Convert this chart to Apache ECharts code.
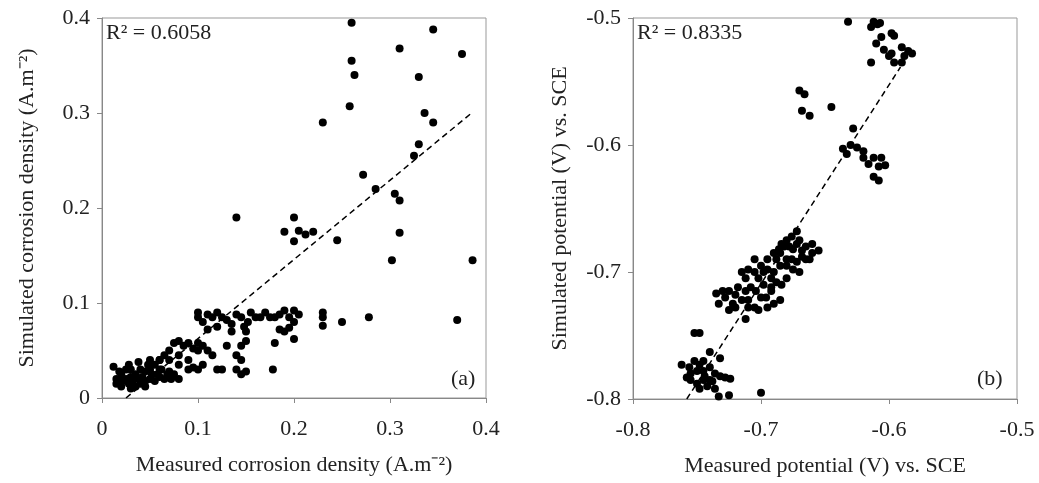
<!DOCTYPE html>
<html>
<head>
<meta charset="utf-8">
<script src="https://cdn.jsdelivr.net/npm/echarts@6/dist/echarts.min.js"></script>
<style>html,body{margin:0;background:#fff}#c{width:1039px;height:483px}</style>
</head>
<body>
<div id="c"></div>
<script>
// (a) 腐蚀电流密度
const corrPoints = [
  [0.26,0.395],[0.345,0.388],[0.26,0.355],[0.263,0.34],[0.31,0.368],[0.375,0.362],[0.258,0.307],
  [0.23,0.29],[0.33,0.338],[0.336,0.3],[0.345,0.29],[0.33,0.267],[0.325,0.255],[0.272,0.235],
  [0.285,0.22],[0.305,0.215],[0.31,0.208],[0.31,0.174],[0.302,0.145],[0.386,0.145],
  [0.14,0.19],[0.2,0.19],[0.19,0.175],[0.205,0.176],[0.212,0.172],[0.2,0.165],[0.22,0.175],[0.245,0.166],
  [0.37,0.082],[0.278,0.085],[0.25,0.08],[0.23,0.09],[0.23,0.085],[0.23,0.076],
  [0.1,0.09],[0.1,0.085],[0.105,0.08],[0.11,0.088],[0.115,0.085],[0.12,0.09],[0.125,0.085],[0.13,0.082],
  [0.135,0.078],[0.14,0.088],[0.145,0.085],[0.148,0.075],[0.15,0.07],[0.152,0.08],[0.155,0.09],
  [0.16,0.085],[0.165,0.085],[0.17,0.09],[0.175,0.085],[0.18,0.085],[0.185,0.088],[0.19,0.092],
  [0.195,0.085],[0.2,0.092],[0.2,0.08],[0.205,0.088],[0.19,0.07],[0.185,0.072],[0.195,0.074],
  [0.2,0.062],[0.18,0.058],[0.11,0.072],[0.12,0.075],[0.135,0.07],[0.15,0.06],[0.145,0.055],
  [0.08,0.06],[0.075,0.058],[0.085,0.055],[0.09,0.058],[0.095,0.052],[0.1,0.058],[0.1,0.05],
  [0.105,0.055],[0.11,0.05],[0.115,0.045],[0.13,0.055],[0.14,0.045],[0.145,0.04],[0.07,0.05],
  [0.065,0.045],[0.06,0.04],[0.055,0.035],[0.06,0.03],[0.07,0.028],[0.08,0.035],[0.09,0.03],
  [0.095,0.032],[0.1,0.03],[0.105,0.035],[0.12,0.03],[0.125,0.03],[0.14,0.03],[0.145,0.025],
  [0.15,0.028],[0.178,0.03],[0.08,0.02],[0.075,0.025],
  [0.012,0.033],[0.015,0.02],[0.015,0.015],[0.018,0.018],[0.02,0.025],[0.02,0.012],[0.022,0.018],
  [0.025,0.02],[0.025,0.03],[0.028,0.015],[0.03,0.022],[0.03,0.03],[0.032,0.018],[0.035,0.025],
  [0.035,0.012],[0.038,0.02],[0.04,0.03],[0.04,0.015],[0.042,0.022],[0.045,0.028],[0.045,0.018],
  [0.048,0.035],[0.05,0.02],[0.05,0.03],[0.052,0.025],[0.055,0.018],[0.058,0.025],[0.06,0.022],
  [0.062,0.03],[0.065,0.02],[0.068,0.025],[0.072,0.02],[0.045,0.012],[0.03,0.01],[0.018,0.028],
  [0.028,0.035],[0.038,0.038],[0.05,0.04],[0.06,0.04],[0.07,0.04],[0.08,0.045],[0.09,0.04]
];
const corrFit = [[0.025, 0], [0.385, 0.30]];

// (b) 电位
const potPoints = [
  [-0.632,-0.503],[-0.612,-0.503],[-0.609,-0.505],[-0.607,-0.504],[-0.614,-0.507],[-0.606,-0.515],
  [-0.598,-0.512],[-0.596,-0.514],[-0.61,-0.52],[-0.604,-0.525],[-0.598,-0.528],[-0.59,-0.523],
  [-0.585,-0.526],[-0.582,-0.528],[-0.588,-0.53],[-0.6,-0.53],[-0.614,-0.535],[-0.596,-0.535],[-0.59,-0.535],
  [-0.67,-0.557],[-0.666,-0.56],[-0.668,-0.573],[-0.662,-0.577],[-0.645,-0.57],[-0.628,-0.587],
  [-0.63,-0.6],[-0.636,-0.603],[-0.625,-0.602],[-0.62,-0.605],[-0.62,-0.61],[-0.612,-0.61],
  [-0.606,-0.61],[-0.616,-0.615],[-0.608,-0.617],[-0.603,-0.616],[-0.612,-0.625],[-0.608,-0.628],[-0.633,-0.607],
  [-0.67,-0.675],[-0.665,-0.68],[-0.66,-0.678],[-0.655,-0.683],[-0.66,-0.685],[-0.668,-0.688],
  [-0.672,-0.678],[-0.675,-0.682],[-0.678,-0.68],[-0.682,-0.68],[-0.685,-0.685],[-0.68,-0.69],
  [-0.676,-0.69],[-0.672,-0.692],[-0.665,-0.69],[-0.67,-0.7],[-0.675,-0.698],[-0.68,-0.695],
  [-0.685,-0.695],[-0.688,-0.69],[-0.69,-0.7],[-0.695,-0.698],[-0.692,-0.705],[-0.688,-0.708],
  [-0.684,-0.71],[-0.68,-0.705],[-0.692,-0.712],[-0.698,-0.71],[-0.702,-0.705],[-0.705,-0.7],
  [-0.71,-0.698],[-0.712,-0.705],[-0.715,-0.7],[-0.708,-0.712],[-0.704,-0.715],[-0.7,-0.72],
  [-0.696,-0.72],[-0.692,-0.715],[-0.685,-0.722],[-0.712,-0.715],[-0.718,-0.712],[-0.72,-0.718],
  [-0.725,-0.715],[-0.728,-0.72],[-0.73,-0.715],[-0.735,-0.717],[-0.733,-0.725],[-0.722,-0.725],
  [-0.715,-0.722],[-0.71,-0.722],[-0.705,-0.728],[-0.702,-0.73],[-0.712,-0.737],[-0.69,-0.725],
  [-0.698,-0.7],[-0.695,-0.69],[-0.69,-0.685],[-0.686,-0.682],[-0.684,-0.678],[-0.68,-0.675],
  [-0.676,-0.672],[-0.668,-0.683],[-0.662,-0.69],[-0.672,-0.668],[-0.7,-0.695],[-0.705,-0.69],
  [-0.72,-0.728],[-0.725,-0.73],[-0.695,-0.728],[-0.71,-0.728],
  [-0.752,-0.748],[-0.748,-0.748],[-0.74,-0.763],[-0.732,-0.768],[-0.745,-0.77],[-0.748,-0.773],
  [-0.752,-0.77],[-0.756,-0.775],[-0.762,-0.773],[-0.755,-0.78],[-0.75,-0.778],[-0.745,-0.778],
  [-0.74,-0.775],[-0.736,-0.78],[-0.732,-0.782],[-0.728,-0.783],[-0.724,-0.784],[-0.74,-0.785],
  [-0.745,-0.785],[-0.75,-0.788],[-0.755,-0.785],[-0.748,-0.792],[-0.742,-0.79],[-0.736,-0.792],
  [-0.733,-0.798],[-0.725,-0.797],[-0.7,-0.795],[-0.758,-0.783],[-0.744,-0.782],[-0.738,-0.786]
];
const potFit = [[-0.758, -0.8], [-0.591, -0.5386]];

const font = 'Liberation Serif';
const axisCommon = {
  axisLine: { show: true, lineStyle: { color: '#888' } },
  axisTick: { show: true, length: 5, lineStyle: { color: '#888' } },
  splitLine: { show: false },
  axisLabel: { color: '#222', fontFamily: font, fontSize: 22, margin: 12 },
  nameTextStyle: { color: '#222', fontFamily: font, fontSize: 22 },
  nameLocation: 'middle'
};
const xLabel = { color: '#222', fontFamily: font, fontSize: 22, margin: 20 };
const box = { show: true, borderColor: '#999', borderWidth: 1 };

const chart = echarts.init(document.getElementById('c'));
chart.setOption({
  animation: false,
  grid: [
    Object.assign({ left: 102, right: 553, top: 18, bottom: 85 }, box),
    Object.assign({ left: 633, right: 22, top: 18, bottom: 84 }, box)
  ],
  xAxis: [
    Object.assign({}, axisCommon, { gridIndex: 0, type: 'value', min: 0, max: 0.4, interval: 0.1, axisLabel: xLabel,
      name: 'Measured corrosion density (A.m\u207B\u00B2)', nameGap: 56 }),
    Object.assign({}, axisCommon, { gridIndex: 1, type: 'value', min: -0.8, max: -0.5, interval: 0.1, axisLabel: xLabel,
      name: 'Measured potential (V) vs. SCE', nameGap: 56 })
  ],
  yAxis: [
    Object.assign({}, axisCommon, { gridIndex: 0, type: 'value', min: 0, max: 0.4, interval: 0.1,
      name: 'Simulated corrosion density (A.m\u207B\u00B2)', nameGap: 64 }),
    Object.assign({}, axisCommon, { gridIndex: 1, type: 'value', min: -0.8, max: -0.5, interval: 0.1,
      name: 'Simulated potential (V) vs. SCE', nameGap: 62 })
  ],
  series: [
    { type: 'scatter', xAxisIndex: 0, yAxisIndex: 0, data: corrPoints, symbolSize: 8, itemStyle: { color: '#000', opacity: 1 } },
    { type: 'line', xAxisIndex: 0, yAxisIndex: 0, data: corrFit, symbol: 'none', lineStyle: { color: '#000', type: [6, 4], width: 1.5 } },
    { type: 'scatter', xAxisIndex: 1, yAxisIndex: 1, data: potPoints, symbolSize: 8, itemStyle: { color: '#000', opacity: 1 } },
    { type: 'line', xAxisIndex: 1, yAxisIndex: 1, data: potFit, symbol: 'none', lineStyle: { color: '#000', type: [6, 4], width: 1.5 } }
  ],
  graphic: [
    { type: 'text', left: 106, top: 22, style: { text: 'R² = 0.6058', font: '22px "Liberation Serif"', fill: '#222' } },
    { type: 'text', left: 637, top: 22, style: { text: 'R² = 0.8335', font: '22px "Liberation Serif"', fill: '#222' } },
    { type: 'text', left: 451, top: 368, style: { text: '(a)', font: '22px "Liberation Serif"', fill: '#222' } },
    { type: 'text', left: 977, top: 368, style: { text: '(b)', font: '22px "Liberation Serif"', fill: '#222' } }
  ]
});
</script>
</body>
</html>
